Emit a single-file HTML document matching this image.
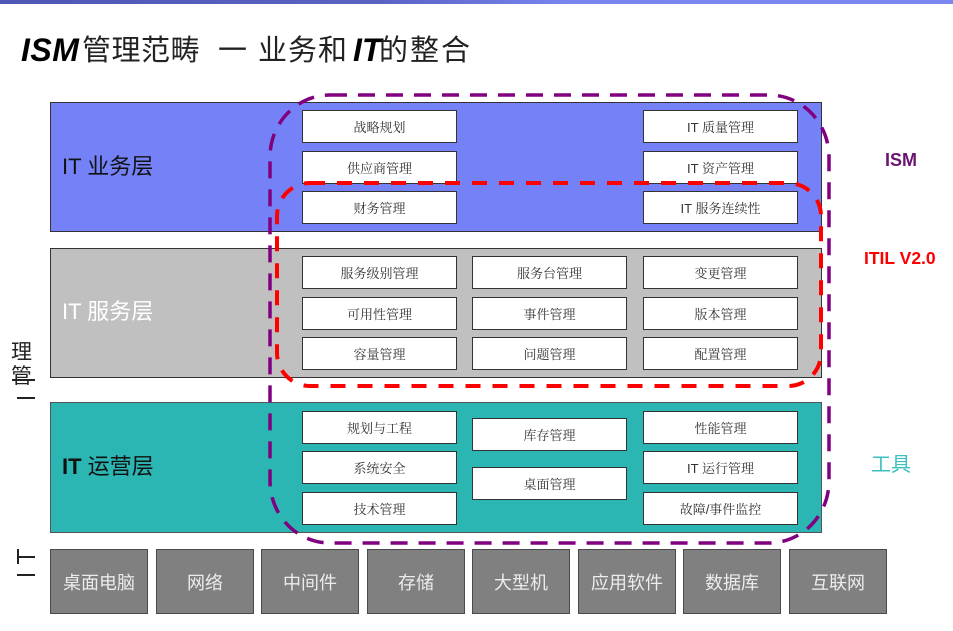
<!DOCTYPE html>
<html><head><meta charset="utf-8">
<style>
*{margin:0;padding:0;box-sizing:border-box}
body{width:953px;height:631px;background:#fff;position:relative;overflow:hidden;font-family:"Liberation Sans","Noto Sans CJK SC",sans-serif}
.a{position:absolute}
.topbar{left:0;top:0;width:953px;height:4px;background:linear-gradient(90deg,#4f57b5 0%,#5a63c4 40%,#7985f0 60%,#7a86f2 100%)}
.t{position:absolute;font-size:29px;line-height:30px;top:36px;color:#222;font-family:"Liberation Sans","Noto Sans CJK SC",sans-serif;white-space:nowrap}
.bi{font-weight:bold;font-style:italic;font-size:32px;color:#000}
.layer{position:absolute;left:50px;width:772px;height:130px;border:1px solid #333}
.lbl{position:absolute;left:62px;font-size:22px;line-height:24px;white-space:nowrap}
.b{position:absolute;width:155px;height:33px;background:#fff;border:1px solid #333;display:flex;align-items:center;justify-content:center;font-size:13px;color:#333;white-space:nowrap;font-family:"Liberation Sans","Noto Serif CJK SC",serif}
.g{position:absolute;top:549px;width:98px;height:65px;background:#808080;border:1px solid #4a4a4a;display:flex;align-items:center;justify-content:center;font-size:18px;color:#ececec;white-space:nowrap}
.bar{position:absolute;background:#222}
</style></head><body>
<div class="a topbar"></div>

<div class="t bi" style="left:21px;top:35px;letter-spacing:0.5px">ISM</div>
<div class="t" style="left:82px;letter-spacing:0.5px">管理范畴</div>
<div class="t" style="left:218px">一</div>
<div class="t" style="left:258px;letter-spacing:1px">业务和</div>
<div class="t bi" style="left:353px;top:35px">IT</div>
<div class="t" style="left:379px;letter-spacing:2px">的整合</div>

<!-- layers -->
<div class="layer" style="top:102px;background:#7582f7"></div>
<div class="layer" style="top:248px;background:#c0c0c0"></div>
<div class="layer" style="top:402px;height:131px;background:#2bb5b3;border-color:#555"></div>

<div class="lbl" style="top:155px;color:#111">IT 业务层</div>
<div class="lbl" style="top:300px;color:#fff">IT 服务层</div>
<div class="lbl" style="top:455px;color:#111"><b>IT</b> 运营层</div>

<!-- business boxes -->
<div class="b" style="left:302px;top:110px">战略规划</div>
<div class="b" style="left:302px;top:151px">供应商管理</div>
<div class="b" style="left:302px;top:191px">财务管理</div>
<div class="b" style="left:643px;top:110px">IT 质量管理</div>
<div class="b" style="left:643px;top:151px">IT 资产管理</div>
<div class="b" style="left:643px;top:191px">IT 服务连续性</div>

<!-- service boxes -->
<div class="b" style="left:302px;top:256px">服务级别管理</div>
<div class="b" style="left:302px;top:297px">可用性管理</div>
<div class="b" style="left:302px;top:337px">容量管理</div>
<div class="b" style="left:472px;top:256px">服务台管理</div>
<div class="b" style="left:472px;top:297px">事件管理</div>
<div class="b" style="left:472px;top:337px">问题管理</div>
<div class="b" style="left:643px;top:256px">变更管理</div>
<div class="b" style="left:643px;top:297px">版本管理</div>
<div class="b" style="left:643px;top:337px">配置管理</div>

<!-- ops boxes -->
<div class="b" style="left:302px;top:411px">规划与工程</div>
<div class="b" style="left:302px;top:451px">系统安全</div>
<div class="b" style="left:302px;top:492px">技术管理</div>
<div class="b" style="left:472px;top:418px">库存管理</div>
<div class="b" style="left:472px;top:467px">桌面管理</div>
<div class="b" style="left:643px;top:411px">性能管理</div>
<div class="b" style="left:643px;top:451px">IT 运行管理</div>
<div class="b" style="left:643px;top:492px">故障/事件监控</div>

<!-- bottom IT boxes -->
<div class="g" style="left:50px">桌面电脑</div>
<div class="g" style="left:156px">网络</div>
<div class="g" style="left:261px">中间件</div>
<div class="g" style="left:367px">存储</div>
<div class="g" style="left:472px">大型机</div>
<div class="g" style="left:578px">应用软件</div>
<div class="g" style="left:683px">数据库</div>
<div class="g" style="left:789px">互联网</div>

<!-- right labels -->
<div class="a" style="left:885px;top:150px;font-size:18px;font-weight:bold;color:#6b1370;line-height:20px">ISM</div>
<div class="a" style="left:864px;top:248px;font-size:17.5px;font-weight:bold;color:#ff0000;line-height:20px;white-space:nowrap">ITIL V2.0</div>
<div class="a" style="left:871px;top:453px;font-size:20px;color:#3cc0c0;line-height:24px">工具</div>

<!-- left vertical labels -->
<div class="a" style="left:11px;top:342px;font-size:21px;line-height:22px;color:#222">理</div>
<div class="a" style="left:11px;top:366px;font-size:21px;line-height:22px;color:#222">管</div>
<div class="bar" style="left:12px;top:379px;width:23px;height:2px"></div>
<div class="bar" style="left:17px;top:397px;width:18px;height:2px"></div>
<div class="bar" style="left:17px;top:549px;width:2px;height:15px"></div>
<div class="bar" style="left:17px;top:556px;width:18px;height:2px"></div>
<div class="bar" style="left:17px;top:574px;width:18px;height:2px"></div>

<!-- dashed outlines -->
<svg class="a" style="left:0;top:0" width="953" height="631" viewBox="0 0 953 631">
<rect x="277" y="183" width="544" height="203" rx="33" ry="33" fill="none" stroke="#ff0000" stroke-width="4" stroke-dasharray="15 12"/>
<rect x="270" y="95" width="559" height="448" rx="60" ry="62" fill="none" stroke="#800080" stroke-width="3.5" stroke-dasharray="17 11"/>
</svg>
</body></html>
